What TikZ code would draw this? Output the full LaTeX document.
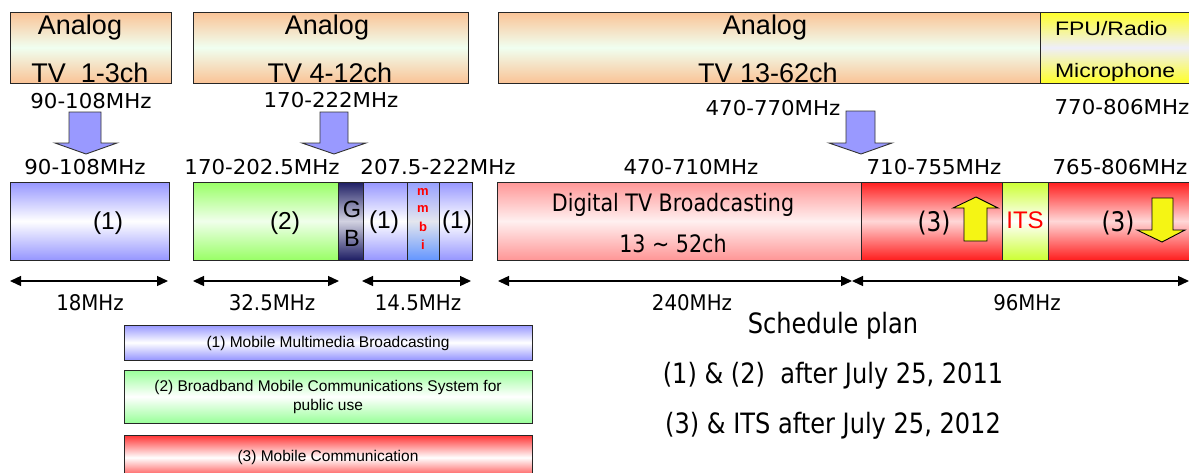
\documentclass[tikz,border=0pt]{standalone}
\usepackage{fontspec}
\setmainfont{Liberation Sans}
\newfontfamily\mhzf[FakeStretch=1.04]{DejaVu Sans}
\newfontfamily\dimf[FakeStretch=0.92]{DejaVu Sans}
\newfontfamily\narrowf[FakeStretch=0.86]{DejaVu Sans}
\newfontfamily\widef[FakeStretch=1.18]{Liberation Sans}
\usetikzlibrary{arrows.meta,shadings}
\definecolor{peach}{RGB}{250,195,150}
\definecolor{peachM}{RGB}{240,255,240}
\definecolor{fpuY}{RGB}{255,255,40}
\definecolor{fpuM}{RGB}{238,238,250}
\definecolor{blueE}{RGB}{150,150,255}
\definecolor{greenE}{RGB}{153,255,102}
\definecolor{greenM}{RGB}{240,255,235}
\definecolor{navyE}{RGB}{30,30,100}
\definecolor{navyM}{RGB}{210,210,225}
\definecolor{mmbiT}{RGB}{150,160,255}
\definecolor{mmbiM}{RGB}{228,230,238}
\definecolor{mmbiB}{RGB}{100,150,255}
\definecolor{pinkE}{RGB}{255,150,150}
\definecolor{pinkM}{RGB}{255,240,240}
\definecolor{redE}{RGB}{255,30,30}
\definecolor{redM}{RGB}{255,215,215}
\definecolor{itsE}{RGB}{204,255,51}
\definecolor{lgGreen}{RGB}{153,255,153}
\definecolor{lgRed}{RGB}{255,50,50}
\definecolor{arrBlue}{RGB}{153,153,255}
\definecolor{arrYel}{RGB}{245,245,20}
\newcommand{\bx}[6]{\node[box,#6,minimum width={#4-#2},minimum height={#5-#3}] (#1) at ({(#2+#4)/2},{(#3+#5)/2}) {};}
\begin{document}
\begin{tikzpicture}[x=1pt,y=-1pt,
  box/.style={draw=black!85, line width=0.9pt, inner sep=0, outer sep=0},
  vgrad/.style 2 args={top color=#1, bottom color=#1, middle color=#2},
  tgrad/.style n args={3}{top color=#1, bottom color=#3, middle color=#2},
  txt/.style={inner sep=0, outer sep=0, anchor=base},
  anf/.style={txt, font=\fontsize{27}{30}\selectfont},
  mhz/.style={txt, font=\mhzf\fontsize{20.5}{24}\selectfont},
  dim/.style={txt, font=\dimf\fontsize{21.5}{24}\selectfont},
  nar/.style={txt, font=\narrowf\fontsize{24}{28}\selectfont},
  sched/.style={txt, font=\narrowf\fontsize{28}{32}\selectfont},
  inb/.style={inner sep=0, font=\fontsize{24.5}{28}\selectfont},
  leg/.style={inner sep=0, font=\fontsize{15.5}{19}\selectfont, align=center},
  dimarr/.style={line width=1.3pt, {Triangle[length=11pt,width=10pt]}-{Triangle[length=11pt,width=10pt]}},
  blockarr/.style={draw=black!80, line width=0.9pt, fill=arrBlue},
  yelarr/.style={draw=black, line width=0.9pt, fill=arrYel}
]
\useasboundingbox (0,0) rectangle (1189,472);

% ---- top analog boxes ----
\bx{a1}{10}{12}{171}{83}{vgrad={peach}{peachM}}
\bx{a2}{193}{12}{468}{83}{vgrad={peach}{peachM}}
\bx{a3}{498}{12}{1040}{83}{vgrad={peach}{peachM}}
\bx{fpu}{1040}{12}{1192}{83}{vgrad={fpuY}{fpuM}}

\node[anf] (a1t) at (80,34) {Analog};
\node[anf] (a1b) at (90,82) {TV\ \ 1-3ch};
\node[anf] (a2t) at (327,34) {Analog};
\node[anf] (a2b) at (330,82) {TV 4-12ch};
\node[anf] (a3t) at (765,34) {Analog};
\node[anf] (a3b) at (768,82) {TV 13-62ch};
\node[txt, anchor=base west, font=\widef\fontsize{19.5}{22}\selectfont] (fpu1) at (1055,35) {FPU/Radio};
\node[txt, anchor=base west, font=\widef\fontsize{19.5}{22}\selectfont] (fpu2) at (1055,77) {Microphone};

% ---- frequency labels ----
\node[mhz] (f1) at (91,108) {90-108MHz};
\node[mhz] (f2) at (331,107) {170-222MHz};
\node[mhz] (f3) at (773,115) {470-770MHz};
\node[mhz] (f4) at (1122,114) {770-806MHz};

\node[mhz] (g1) at (85,174) {90-108MHz};
\node[mhz] (g2) at (262,174) {170-202.5MHz};
\node[mhz] (g3) at (438,174) {207.5-222MHz};
\node[mhz] (g4) at (691,174) {470-710MHz};
\node[mhz] (g5) at (934,174) {710-755MHz};
\node[mhz] (g6) at (1120,174) {765-806MHz};

% ---- blue block arrows ----
\draw[blockarr] (69,112) -- (101,112) -- (101,143) -- (117,143) -- (86,154) -- (55,143) -- (69,143) -- cycle;
\draw[blockarr] (320,112) -- (348,112) -- (348,143) -- (366,143) -- (334,154) -- (302,143) -- (320,143) -- cycle;
\draw[blockarr] (846,111) -- (875,111) -- (875,143) -- (892,143) -- (861,154) -- (829,143) -- (846,143) -- cycle;

% ---- bottom band boxes ----
\bx{b1}{10}{182}{169}{260}{vgrad={blueE}{white}}
\bx{b2}{193}{182}{338}{260}{vgrad={greenE}{greenM}}
\bx{gb}{338}{182}{363}{260}{vgrad={navyE}{navyM}}
\bx{b3}{363}{182}{407}{260}{vgrad={blueE}{white}}
\bx{mm}{407}{182}{439}{260}{tgrad={mmbiT}{mmbiM}{mmbiB}}
\bx{b4}{439}{182}{472}{260}{vgrad={blueE}{white}}
\bx{dtv}{497}{182}{861}{260}{vgrad={pinkE}{pinkM}}
\bx{r1}{861}{182}{1002}{260}{vgrad={redE}{redM}}
\bx{its}{1002}{182}{1048}{260}{vgrad={itsE}{white}}
\bx{r2}{1048}{182}{1192}{260}{vgrad={redE}{redM}}

\node[inb] (b1t) at (108,223) {(1)};
\node[inb] (b2t) at (285,223) {(2)};
\node[inb, font=\fontsize{23.5}{26}\selectfont] (gbG) at (352,209) {G};
\node[inb, font=\fontsize{23.5}{26}\selectfont] (gbB) at (352,238) {B};
\node[inb] (b3t) at (384,222) {(1)};
\node[inb] (b4t) at (457,222) {(1)};
\node[inb, font=\bfseries\fontsize{13}{15}\selectfont, text=red] (m1) at (423,192) {m};
\node[inb, font=\bfseries\fontsize{13}{15}\selectfont, text=red] (m2) at (423,209) {m};
\node[inb, font=\bfseries\fontsize{13}{15}\selectfont, text=red] (m3) at (423,227) {b};
\node[inb, font=\bfseries\fontsize{13}{15}\selectfont, text=red] (m4) at (423,245) {i};

\node[nar] (dtv1) at (673,211) {Digital TV Broadcasting};
\node[nar] (dtv2) at (673,252) {13 \char`\~{} 52ch};

\node[inb, font=\narrowf\fontsize{27}{30}\selectfont] (r1t) at (934,223) {(3)};
\node[inb, font=\fontsize{24}{28}\selectfont, text=red] (itst) at (1025,220) {ITS};
\node[inb, font=\narrowf\fontsize{27}{30}\selectfont] (r2t) at (1118,223) {(3)};

% ---- yellow arrows ----
\draw[yelarr] (964,241) -- (964,208) -- (953,208) -- (976,197) -- (998,208) -- (987,208) -- (987,241) -- cycle;
\draw[yelarr] (1152,198) -- (1173,198) -- (1173,230) -- (1185,230) -- (1162,242) -- (1137,230) -- (1152,230) -- cycle;

% ---- dimension arrows ----
\coordinate (d1a) at (10,281);  \coordinate (d1b) at (168,281);
\coordinate (d2a) at (193,281); \coordinate (d2b) at (339,281);
\coordinate (d3a) at (362,281); \coordinate (d3b) at (471,281);
\coordinate (d4a) at (498,281); \coordinate (d4b) at (852,281);
\coordinate (d5a) at (852,281); \coordinate (d5b) at (1189,281);
\draw[dimarr] (d1a) -- (d1b);
\draw[dimarr] (d2a) -- (d2b);
\draw[dimarr] (d3a) -- (d3b);
\draw[dimarr] (d4a) -- (d4b);
\draw[dimarr] (d5a) -- (d5b);

\node[dim] (w1) at (90,310) {18MHz};
\node[dim] (w2) at (272,310) {32.5MHz};
\node[dim] (w3) at (418,310) {14.5MHz};
\node[dim] (w4) at (692,310) {240MHz};
\node[dim] (w5) at (1027,310) {96MHz};

% ---- legend ----
\bx{l1}{124}{325}{532}{360}{vgrad={blueE}{white}}
\bx{l2}{124}{370}{532}{423}{vgrad={lgGreen}{white}}
\bx{l3}{124}{435}{532}{480}{vgrad={lgRed}{white}}
\node[leg] (l1t) at (328,343) {(1) Mobile Multimedia Broadcasting};
\node[leg] (l2t) at (328,397) {(2) Broadband Mobile Communications System for\\public use};
\node[leg] (l3t) at (328,457) {(3) Mobile Communication};

% ---- schedule ----
\node[sched] (s0) at (833,333) {Schedule plan};
\node[sched] (s1) at (833,383) {(1) \& (2)\ \ after July 25, 2011};
\node[sched] (s2) at (833,433) {(3) \& ITS after July 25, 2012};
\end{tikzpicture}
\end{document}
